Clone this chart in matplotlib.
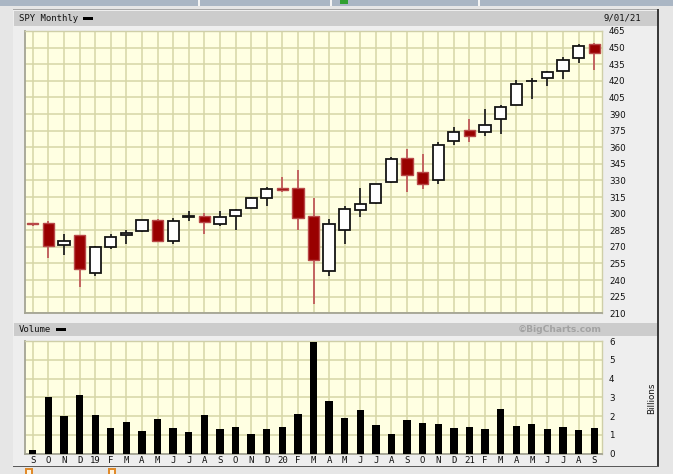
import matplotlib
matplotlib.use('Agg')
import matplotlib.pyplot as plt
from matplotlib.patches import Rectangle
import numpy as np

# ---------------- data ----------------
months = ['S', 'O', 'N', 'D', '19', 'F', 'M', 'A', 'M', 'J', 'J', 'A',
          'S', 'O', 'N', 'D', '20', 'F', 'M', 'A', 'M', 'J', 'J', 'A',
          'S', 'O', 'N', 'D', '21', 'F', 'M', 'A', 'M', 'J', 'J', 'A', 'S']
opens = [291.2, 291.2, 271.6, 280.3, 246.0, 270.2, 280.4, 284.7, 294.7, 275.3, 296.7, 297.6,
         290.6, 297.7, 304.9, 314.6, 323.5, 323.4, 298.2, 248.0, 285.3, 303.2, 309.6, 328.3,
         350.4, 337.7, 330.2, 365.6, 375.3, 373.7, 385.6, 398.4, 419.4, 422.3, 428.9, 440.3, 452.9]
highs = [291.6, 293.2, 281.2, 280.4, 270.5, 281.3, 285.2, 294.5, 295.0, 296.3, 302.2, 300.9,
         302.6, 304.6, 315.5, 323.8, 333.0, 339.1, 313.8, 294.9, 306.8, 323.4, 327.2, 351.3,
         358.8, 354.0, 364.4, 378.5, 385.9, 394.2, 398.1, 420.7, 422.8, 428.6, 441.8, 453.1, 454.1]
lows = [289.3, 259.9, 263.1, 233.8, 243.7, 267.8, 272.4, 283.8, 275.3, 272.6, 293.8, 281.7,
        288.9, 284.8, 304.7, 307.1, 320.0, 285.5, 218.3, 243.9, 273.0, 296.7, 309.1, 327.7,
        319.8, 322.6, 327.2, 362.0, 364.8, 370.0, 371.9, 398.2, 404.0, 415.5, 422.0, 436.1, 430.0]
closes = [290.7, 270.6, 275.7, 249.9, 269.9, 278.7, 282.4, 294.0, 275.3, 293.0, 297.4, 292.5,
          296.8, 303.3, 314.3, 321.9, 321.7, 296.3, 257.8, 290.5, 304.3, 308.4, 326.5, 349.3,
          334.9, 326.5, 362.1, 373.9, 370.1, 380.4, 396.3, 417.3, 420.0, 428.1, 438.5, 451.6, 445.0]
volume = [0.2, 3.0, 2.0, 3.1, 2.05, 1.35, 1.7, 1.2, 1.85, 1.35, 1.15, 2.05,
          1.3, 1.4, 1.05, 1.3, 1.4, 2.1, 5.93, 2.8, 1.9, 2.3, 1.5, 1.05,
          1.8, 1.65, 1.55, 1.35, 1.4, 1.3, 2.35, 1.45, 1.55, 1.3, 1.4, 1.25, 1.35]
price_ticks = list(range(210, 466, 15))
volume_ticks = [0, 1, 2, 3, 4, 5, 6]

# ---------------- figure ----------------
W, H = 673, 474
fig = plt.figure(figsize=(W / 100, H / 100), dpi=100)
fig.patch.set_facecolor('#e6e6e6')


def rect(x0, y0, x1, y1, z=-10, **kw):
    fig.patches.append(Rectangle((x0 / W, 1 - y1 / H), (x1 - x0) / W, (y1 - y0) / H,
                                 transform=fig.transFigure, figure=fig, zorder=z, **kw))


def ftext(x, y, s, **kw):
    fig.text(x / W, 1 - y / H, s, **kw)


# top strip (page header, cut off)
rect(0, 0, W, 6, facecolor='#aab6c4', edgecolor='none')
for sx in [198, 330, 478]:
    rect(sx, 0, sx + 1.5, 6, z=-9, facecolor='#f4f4f4', edgecolor='none')
rect(340, 0, 348, 4, z=-9, facecolor='#30a030', edgecolor='none')

# outer chart box
rect(12.5, 9, 659, 467, facecolor='#eeeeee', edgecolor='none')
rect(12.5, 9, 13.5, 467, z=-9, facecolor='#a8a8a8', edgecolor='none')
rect(12.5, 9, 659, 10, z=-9, facecolor='#a8a8a8', edgecolor='none')
rect(657, 9, 659, 467, z=-9, facecolor='#3a3a3a', edgecolor='none')
rect(12.5, 465.5, 659, 467, z=-9, facecolor='#5a5a5a', edgecolor='none')

# header bars
rect(14, 11, 657, 25.5, z=-9, facecolor='#cccccc', edgecolor='none')
rect(14, 322.7, 657, 335.7, z=-9, facecolor='#cccccc', edgecolor='none')
mono = dict(family='DejaVu Sans Mono', fontsize=6.5, color='#111111', va='center')
ftext(19, 18.3, 'SPY Monthly', ha='left', **mono)
rect(83, 16.8, 93, 19.8, z=-8, facecolor='black', edgecolor='none')
ftext(603, 18.3, '9/01/21', ha='left', **mono)
ftext(19, 329.3, 'Volume', ha='left', **mono)
rect(56, 327.8, 66, 330.8, z=-8, facecolor='black', edgecolor='none')
ftext(602, 329.3, '\u00a9BigCharts.com', ha='right', va='center', family='DejaVu Sans',
      fontsize=6.6, fontweight='bold', color='#a2a2a2')
ftext(652, 398, 'Billions', ha='center', va='center', rotation=90,
      family='DejaVu Sans', fontsize=6.3, color='#111111')

# bottom icons
for bx in [25, 108]:
    rect(bx, 468, bx + 8, 474, z=-9, facecolor='#e08a2a', edgecolor='none')
    rect(bx + 2, 470, bx + 6, 474, z=-8, facecolor='#fff4e0', edgecolor='none')

# ---------------- axes ----------------
ax1 = fig.add_axes([25 / W, 1 - 313.3 / H, 577 / W, (313.3 - 31) / H])
ax2 = fig.add_axes([25 / W, 1 - 453.5 / H, 577 / W, (453.5 - 341) / H])

x = np.arange(len(months))
O = np.array(opens); Hh = np.array(highs); L = np.array(lows); C = np.array(closes)
up = C >= O
lo = np.minimum(O, C)
hgt = np.maximum(np.abs(C - O), 0.8)

grid_c = '#d6d6a6'
for ax in (ax1, ax2):
    ax.set_facecolor('#ffffe2')
    ax.set_xlim(-0.5, 36.5)
    ax.set_xticks(x)
    ax.grid(True, color=grid_c, lw=1.1, zorder=0)
    ax.set_axisbelow(True)
    ax.yaxis.tick_right()
    ax.tick_params(axis='y', length=0, pad=5, labelsize=6.3, labelcolor='#111111')
    ax.tick_params(axis='x', length=0)
    for s in ('left', 'bottom'):
        ax.spines[s].set_color('#a4a494')
        ax.spines[s].set_linewidth(1.3)
    for s in ('top', 'right'):
        ax.spines[s].set_color('#cfcfa8')
        ax.spines[s].set_linewidth(1.0)

# price candles
ax1.set_ylim(210, 465)
ax1.set_yticks(price_ticks)
ax1.tick_params(axis='x', labelbottom=False)
ax1.vlines(x[up], L[up], Hh[up], color='#222222', lw=1.3, zorder=2)
ax1.vlines(x[~up], L[~up], Hh[~up], color='#c05a5a', lw=1.3, zorder=2)
ax1.bar(x[up], hgt[up], bottom=lo[up], width=0.72, facecolor='white',
        edgecolor='#151515', lw=1.3, zorder=3)
ax1.bar(x[~up], hgt[~up], bottom=lo[~up], width=0.72, facecolor='#990000',
        edgecolor='#b84848', lw=1.0, zorder=3)

# volume bars
ax2.set_ylim(0, 6)
ax2.set_yticks(volume_ticks)
ax2.bar(x, volume, width=0.47, color='black', zorder=3)
ax2.set_xticks(x, months)
ax2.tick_params(axis='x', pad=1.5, labelsize=6.5, labelcolor='#111111')
for lab in ax2.get_xticklabels():
    lab.set_family('DejaVu Sans Mono')

fig.savefig('out.png', dpi=100, facecolor=fig.get_facecolor())
